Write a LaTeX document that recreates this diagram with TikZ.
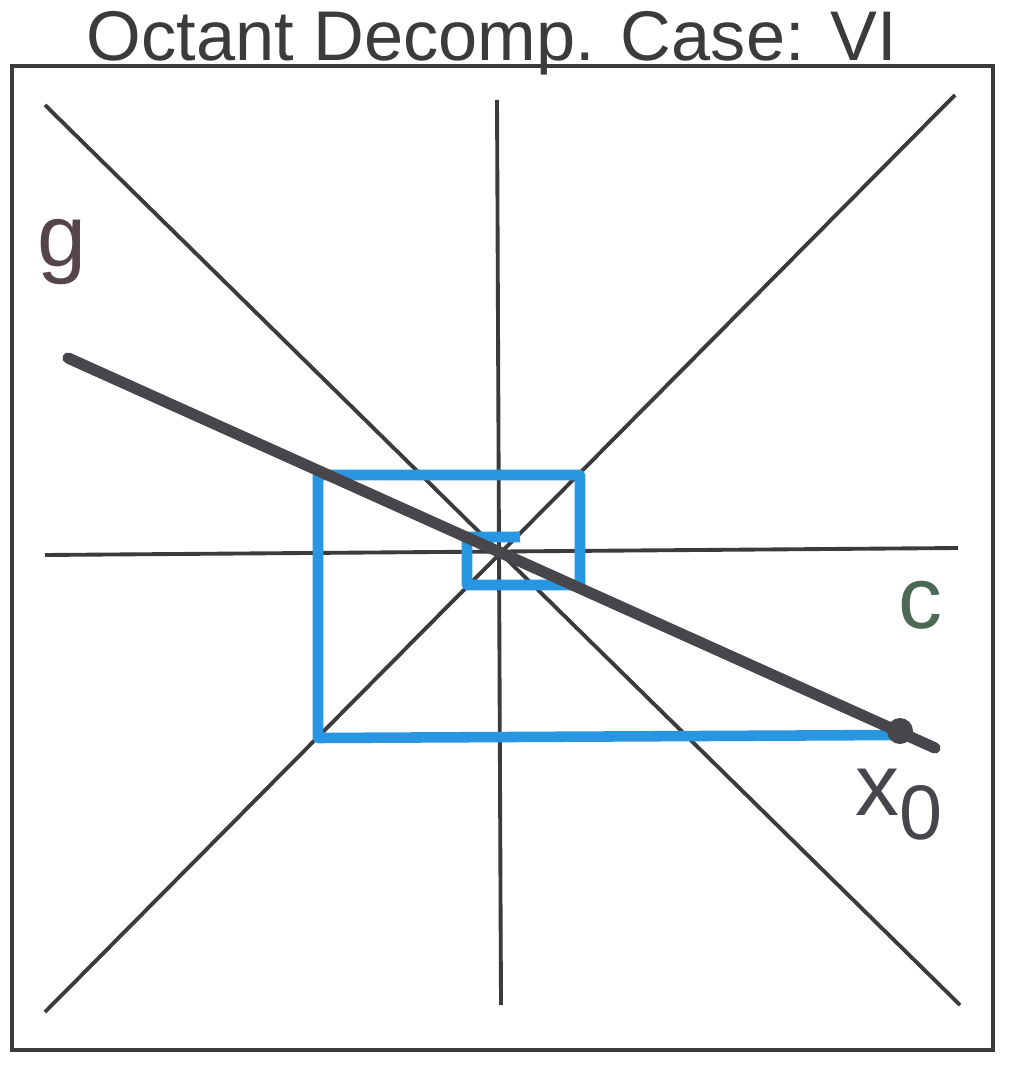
\documentclass[tikz,border=0pt]{standalone}
\usepackage{fontspec}
\setmainfont{Liberation Sans}
\usetikzlibrary{positioning, calc}
\definecolor{penblk}{RGB}{60, 58, 60}
\definecolor{pengrey}{RGB}{72, 70, 74}
\definecolor{penblue}{RGB}{40, 150, 225}
\definecolor{penmaroon}{RGB}{85, 68, 74}
\definecolor{pengreen}{RGB}{78, 104, 86}
\tikzset{
  frame/.style={draw=penblk, line width=1.4pt},
  guide/.style={draw=penblk, line width=1.1pt},
  ray/.style={draw=pengrey, line width=3.2pt, line cap=round},
  box/.style={draw=penblue, line width=3pt, line join=round},
  hand/.style={font=\fontsize{25}{27}\selectfont, inner sep=0pt},
}
\begin{document}
\begin{tikzpicture}[x=0.01cm, y=-0.01cm]
\useasboundingbox (0,0) rectangle (1016,1070);

% frame and title
\draw[frame] (12,66) rectangle (993,1050);
\node[font=\fontsize{20}{22}\selectfont, text=penblk, anchor=base] (title) at (492,61) {Octant Decomp. Case: VI};

% octant guides
\coordinate (nw) at (45,105);
\coordinate (se) at (960,1005);
\coordinate (ne) at (955,95);
\coordinate (sw) at (45,1012);
\coordinate (n) at (497,100);
\coordinate (s) at (501,1005);
\coordinate (w) at (45,555);
\coordinate (e) at (958,548);
\draw[guide] (nw) -- (se);
\draw[guide] (ne) -- (sw);
\draw[guide] (n) -- (s);
\draw[guide] (w) -- (e);

% nested boxes
\draw[box] (520,537) -- (467,537) -- (467,585) -- (580,585) -- (580,475)
  -- (318,475) -- (318,738) -- (895,735);

% line g through the centre
\coordinate (gstart) at (68,358);
\coordinate (gend) at (935,748);
\draw[ray] (gstart) -- (gend);
\node[circle, fill=pengrey, minimum size=0.26cm, inner sep=0pt] (x0) at (900,731) {};

% labels
\node[hand, text=penmaroon] (glab) at (62,252) {g};
\node[hand, text=pengreen] (clab) at (920,605) {c};
\node[hand, text=pengrey] (xlab) at (900,805) {x\textsubscript{\fontsize{22}{22}\selectfont 0}};

\end{tikzpicture}
\end{document}
